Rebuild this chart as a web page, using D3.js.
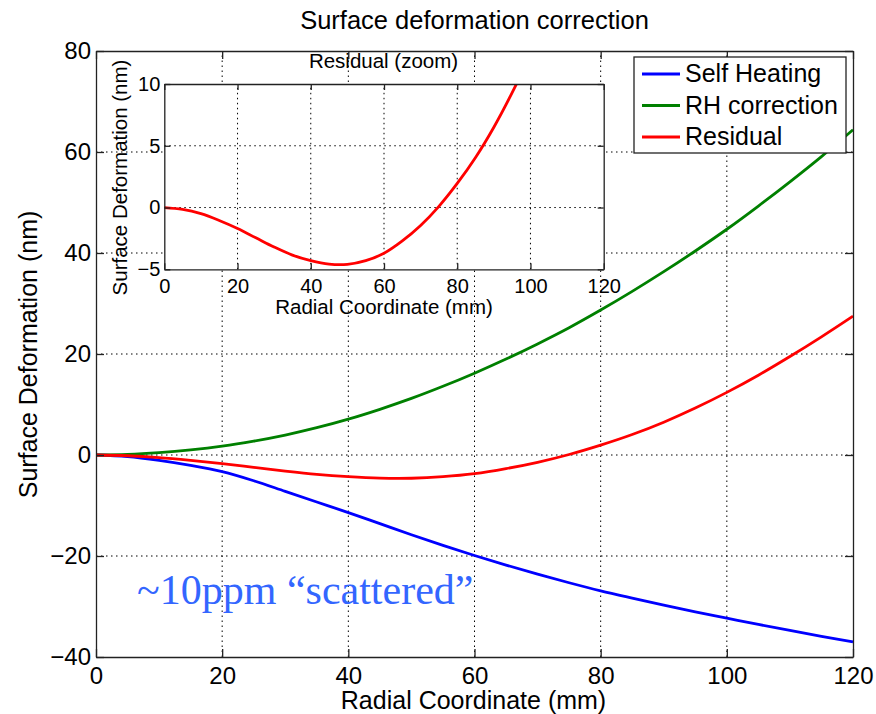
<!DOCTYPE html>
<html>
<head>
<meta charset="utf-8">
<script src="https://cdn.jsdelivr.net/npm/d3@7"></script>
<style>
  body { margin: 0; background: #fff; }
  text { font-family: "Liberation Sans", Arial, Helvetica, sans-serif; fill: #000; }
</style>
</head>
<body>
<svg width="876" height="714"></svg>
<script>
// radial coordinate (mm) and the three profiles (nm)
const radius = [0, 5, 10, 15, 20, 25, 30, 35, 40, 45, 50, 55, 60, 65, 70, 75, 80, 85, 90, 95, 100, 105, 110, 115, 120];
const selfHeating = [0, -0.3, -1.05, -2.05, -3.3, -5.1, -7.2, -9.3, -11.4, -13.6, -15.8, -17.9, -19.9, -21.8, -23.6, -25.3, -26.9, -28.35, -29.75, -31.05, -32.3, -33.55, -34.75, -35.9, -37.0];
const rhCorrection = [0, 0.1, 0.45, 1.0, 1.75, 2.75, 3.95, 5.4, 7.1, 9.05, 11.2, 13.6, 16.2, 19.0, 22.0, 25.2, 28.7, 32.4, 36.3, 40.4, 44.7, 49.3, 54.1, 59.1, 64.4];
const residual = [0, -0.15, -0.5, -1.05, -1.7, -2.45, -3.2, -3.85, -4.3, -4.58, -4.6, -4.3, -3.7, -2.7, -1.45, 0.1, 1.95, 4.05, 6.5, 9.3, 12.4, 15.8, 19.5, 23.4, 27.5];

const seriesNames = ['Self Heating', 'RH correction', 'Residual'];
const seriesColors = ['#0000ff', '#008000', '#ff0000'];

const xTicks = [0, 20, 40, 60, 80, 100, 120];
const yTicks = [-40, -20, 0, 20, 40, 60, 80];
const insetYTicks = [-5, 0, 5, 10];

const svg = d3.select('svg');

const x = d3.scaleLinear().domain([0, 120]).range([96, 853]);
const y = d3.scaleLinear().domain([-40, 80]).range([657, 51]);

const axisColor = '#222';

// dotted grid
function grid(g, xs, ys, xt, yt) {
  g.selectAll('.gx').data(xt.slice(1, -1)).join('line')
    .attr('x1', d => xs(d)).attr('x2', d => xs(d))
    .attr('y1', ys.range()[0]).attr('y2', ys.range()[1]);
  g.selectAll('.gy').data(yt.slice(1, -1)).join('line')
    .attr('class', 'gy')
    .attr('y1', d => ys(d)).attr('y2', d => ys(d))
    .attr('x1', xs.range()[0]).attr('x2', xs.range()[1]);
  g.selectAll('line')
    .attr('stroke', '#000')
    .attr('stroke-width', 1)
    .attr('stroke-dasharray', '1.5,3.5');
}

function boxAxes(g, xs, ys, xt, yt, fontSize, tick, padX, padY) {
  const [x0, x1] = xs.range();
  const [y0, y1] = ys.range();
  const style = sel => {
    sel.selectAll('path, line').attr('stroke', axisColor).attr('stroke-width', 1.3);
    sel.selectAll('text').attr('fill', '#000').style('font-size', fontSize + 'px')
      .style('font-family', '"Liberation Sans", Arial, sans-serif');
  };
  g.append('g').attr('transform', `translate(0,${y0})`)
    .call(d3.axisBottom(xs).tickValues(xt).tickSize(-tick).tickSizeOuter(0).tickPadding(padX))
    .call(style);
  g.append('g').attr('transform', `translate(0,${y1})`)
    .call(d3.axisTop(xs).tickValues(xt).tickSize(-tick).tickSizeOuter(0).tickFormat(''))
    .call(style);
  g.append('g').attr('transform', `translate(${x0},0)`)
    .call(d3.axisLeft(ys).tickValues(yt).tickSize(-tick).tickSizeOuter(0).tickPadding(padY))
    .call(style);
  g.append('g').attr('transform', `translate(${x1},0)`)
    .call(d3.axisRight(ys).tickValues(yt).tickSize(-tick).tickSizeOuter(0).tickFormat(''))
    .call(style);
}

// main plot
grid(svg.append('g'), x, y, xTicks, yTicks);

const line = d3.line()
  .x((d, i) => x(radius[i]))
  .y(d => y(d))
  .curve(d3.curveCatmullRom.alpha(0.5));

const seriesData = [selfHeating, rhCorrection, residual];
svg.append('g').selectAll('path').data(seriesData).join('path')
  .attr('d', line)
  .attr('fill', 'none')
  .attr('stroke', (d, i) => seriesColors[i])
  .attr('stroke-width', 2.8);

boxAxes(svg.append('g'), x, y, xTicks, yTicks, 24, 8, 10, 5);

svg.append('text')
  .attr('x', 474.5).attr('y', 29)
  .attr('text-anchor', 'middle')
  .style('font-size', '25.5px')
  .text('Surface deformation correction');

svg.append('text')
  .attr('x', 473.5).attr('y', 709)
  .attr('text-anchor', 'middle')
  .style('font-size', '25px')
  .text('Radial Coordinate (mm)');

svg.append('text')
  .attr('transform', 'translate(37,354.5) rotate(-90)')
  .attr('text-anchor', 'middle')
  .style('font-size', '25px')
  .text('Surface Deformation (nm)');

// annotation
svg.append('text')
  .attr('x', 137).attr('y', 604)
  .style('font-family', '"Liberation Serif", "Times New Roman", serif')
  .style('font-size', '42px')
  .style('fill', '#3366ff')
  .text('~10ppm \u201cscattered\u201d');

// legend
const legend = svg.append('g');
legend.append('rect')
  .attr('x', 634).attr('y', 57).attr('width', 212).attr('height', 96)
  .attr('fill', '#fff').attr('stroke', axisColor).attr('stroke-width', 1.3);
const item = legend.selectAll('g').data(seriesNames).join('g')
  .attr('transform', (d, i) => `translate(0,${74 + i * 31.5})`);
item.append('line')
  .attr('x1', 642).attr('x2', 680)
  .attr('stroke', (d, i) => seriesColors[i])
  .attr('stroke-width', 2.8);
item.append('text')
  .attr('x', 685).attr('y', 8)
  .style('font-size', '25px')
  .text(d => d);

// inset (zoom on residual)
const ix = d3.scaleLinear().domain([0, 120]).range([164.3, 603.7]);
const iy = d3.scaleLinear().domain([-5, 10]).range([269.3, 84]);

const inset = svg.append('g');
inset.append('rect')
  .attr('x', 164.3).attr('y', 84).attr('width', 439.4).attr('height', 185.3)
  .attr('fill', '#fff');
svg.append('clipPath').attr('id', 'insetClip')
  .append('rect')
  .attr('x', 164.3).attr('y', 84).attr('width', 439.4).attr('height', 185.3);

grid(inset.append('g'), ix, iy, xTicks, insetYTicks);

const insetLine = d3.line()
  .x((d, i) => ix(radius[i]))
  .y(d => iy(d))
  .curve(d3.curveCatmullRom.alpha(0.5));

inset.append('path')
  .datum(residual)
  .attr('clip-path', 'url(#insetClip)')
  .attr('d', insetLine)
  .attr('fill', 'none')
  .attr('stroke', seriesColors[2])
  .attr('stroke-width', 2.8);

boxAxes(inset.append('g'), ix, iy, xTicks, insetYTicks, 20, 6, 9.5, 4);

inset.append('text')
  .attr('x', 383.5).attr('y', 68)
  .attr('text-anchor', 'middle')
  .style('font-size', '20.5px')
  .text('Residual (zoom)');

inset.append('text')
  .attr('x', 384).attr('y', 314)
  .attr('text-anchor', 'middle')
  .style('font-size', '20.5px')
  .text('Radial Coordinate (mm)');

inset.append('text')
  .attr('transform', 'translate(127,177.5) rotate(-90)')
  .attr('text-anchor', 'middle')
  .style('font-size', '20.5px')
  .text('Surface Deformation (nm)');
</script>
</body>
</html>
